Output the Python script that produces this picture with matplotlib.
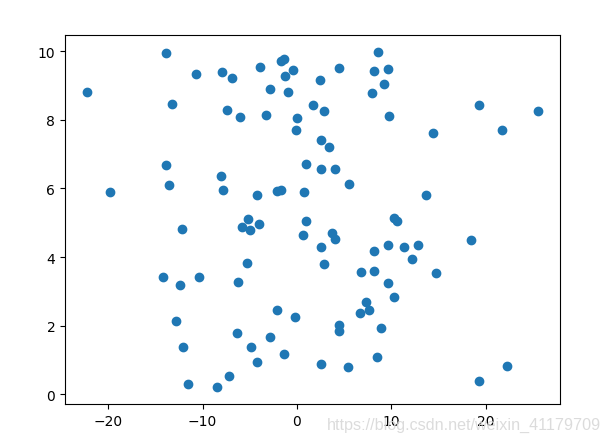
import matplotlib
matplotlib.use("Agg")
import matplotlib.pyplot as plt

x = [-13.92, -22.2, -10.67, -7.98, -6.92, -3.88, -1.73, -1.41, -0.45, -1.23,
     -2.82, -0.91, -13.25, -7.45, -6.07, -3.32, -0.03, -0.14, -13.93, -8.09,
     0.92, -19.86, -13.6, -7.88, -4.27, -2.15, -1.73, 0.71, -5.15,
     8.63, 4.42, 8.13, 9.62, 2.48, 9.2, 7.92, 1.74, 2.83, 9.8,
     19.34, 25.49, 21.78, 14.46, 2.59, 3.36, 2.59, 4.0, 5.48, 13.72,
     -5.82, -5.01, -3.99, -12.22, 0.93, 0.68, -5.33, -14.24, -10.42, -12.4,
     -6.29, -2.08, -0.24, -12.79, -6.39, -2.82, -12.12, -4.84, -1.41, -4.27,
     -7.17, -11.59, -8.52,
     10.25, 10.57, 3.75, 4.0, 2.59, 8.13, 9.69, 11.39, 12.87, 12.17,
     18.39, 2.91, 6.83, 8.13, 14.78, 9.69, 10.25, 7.29, 7.6, 6.72,
     4.5, 4.5, 8.95, 8.53, 2.59, 5.45, 22.3, 19.34]
y = [9.95, 8.82, 9.34, 9.40, 9.23, 9.55, 9.72, 9.78, 9.46, 9.28,
     8.91, 8.82, 8.47, 8.27, 8.09, 8.15, 8.06, 7.69, 6.67, 6.36,
     6.70, 5.91, 6.09, 5.94, 5.81, 5.92, 5.94, 5.91, 5.10,
     9.98, 9.52, 9.43, 9.49, 9.17, 9.03, 8.79, 8.44, 8.25, 8.12,
     8.44, 8.25, 7.71, 7.60, 7.42, 7.22, 6.58, 6.58, 6.12, 5.81,
     4.87, 4.78, 4.96, 4.81, 5.04, 4.64, 3.82, 3.41, 3.41, 3.18,
     3.28, 2.45, 2.26, 2.13, 1.78, 1.68, 1.39, 1.39, 1.18, 0.94,
     0.54, 0.31, 0.21,
     5.14, 5.04, 4.70, 4.53, 4.28, 4.18, 4.35, 4.28, 4.35, 3.94,
     4.49, 3.80, 3.56, 3.59, 3.54, 3.25, 2.84, 2.69, 2.45, 2.37,
     2.03, 1.85, 1.94, 1.10, 0.89, 0.80, 0.83, 0.39]

fig = plt.figure(figsize=(6.1, 4.39), dpi=100)
ax = fig.add_axes([65 / 610, 34 / 439, 495 / 610, 369 / 439])
ax.scatter(x, y)

# csdn watermark, bottom right (it sits over the tick labels in the source too)
fig.text(0.985, 0.03, "https://blog.csdn.net/weixin_41179709", ha="right", va="center",
         fontsize=11.6, family="Liberation Sans", color="#d8d8d8", alpha=0.9)

fig.savefig("out.png", dpi=100)
